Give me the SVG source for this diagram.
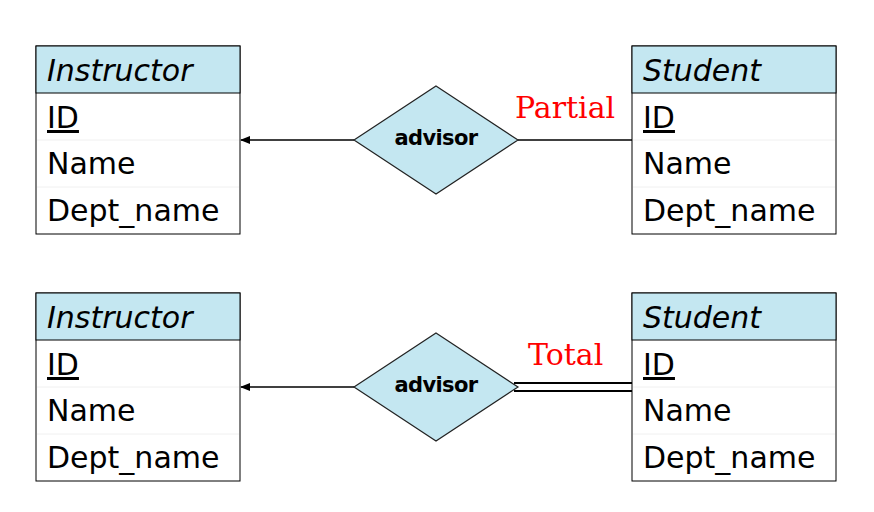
<svg xmlns="http://www.w3.org/2000/svg" width="874" height="512" viewBox="0 0 874 512">
<style>
.hdr{fill:#c4e7f1;stroke:#000;stroke-width:1}
.box{fill:#fff;stroke:#000;stroke-width:1}
.sep{stroke:#f0f0f0;stroke-width:1}
.t{font-family:"DejaVu Sans",Verdana,sans-serif;font-size:30px;fill:#000}
.it{font-style:italic}
.dia{fill:#c4e7f1;stroke:#222;stroke-width:1.2}
.rl{font-family:"DejaVu Sans",Verdana,sans-serif;font-size:21px;font-weight:bold;letter-spacing:-0.6px;fill:#000;text-anchor:middle}
.lab{font-family:"DejaVu Serif","Liberation Serif",serif;font-size:30px;fill:#ff0000}
.ln{stroke:#000;stroke-width:1.4;fill:none}
.ln2{stroke:#000;stroke-width:1.8;fill:none}
</style>
<defs>
<marker id="ah" markerWidth="10" markerHeight="8" refX="9" refY="4" orient="auto" markerUnits="userSpaceOnUse">
<path d="M0,0 L10,4 L0,8 z" fill="#000"/>
</marker>
</defs>
<g id="connectors">
<line class="ln" x1="354" y1="140" x2="241" y2="140" marker-end="url(#ah)"/>
<line class="ln" x1="518" y1="140" x2="632" y2="140"/>
<line class="ln" x1="354" y1="387" x2="241" y2="387" marker-end="url(#ah)"/>
<line class="ln2" x1="514" y1="383" x2="632" y2="383"/>
<line class="ln2" x1="514" y1="391" x2="632" y2="391"/>
</g>
<g id="instructor1">
<rect class="box" x="36" y="46" width="204" height="188"/>
<rect class="hdr" x="36" y="46" width="204" height="47"/>
<line class="sep" x1="37" y1="140" x2="239" y2="140"/>
<line class="sep" x1="37" y1="187" x2="239" y2="187"/>
<text class="t it" x="47" y="81">Instructor</text>
<text class="t" x="47" y="128" text-decoration="underline">ID</text>
<text class="t" x="47" y="174">Name</text>
<text class="t" x="47" y="221">Dept_name</text>
</g>
<g id="advisor1">
<polygon class="dia" points="436,86 518,140 436,194 354,140"/>
<text class="rl" x="436" y="145">advisor</text>
</g>
<g id="student1">
<rect class="box" x="632" y="46" width="204" height="188"/>
<rect class="hdr" x="632" y="46" width="204" height="47"/>
<line class="sep" x1="633" y1="140" x2="835" y2="140"/>
<line class="sep" x1="633" y1="187" x2="835" y2="187"/>
<text class="t it" x="643" y="81">Student</text>
<text class="t" x="643" y="128" text-decoration="underline">ID</text>
<text class="t" x="643" y="174">Name</text>
<text class="t" x="643" y="221">Dept_name</text>
</g>
<text class="lab" x="515" y="118">Partial</text>
<g id="instructor2">
<rect class="box" x="36" y="293" width="204" height="188"/>
<rect class="hdr" x="36" y="293" width="204" height="47"/>
<line class="sep" x1="37" y1="387" x2="239" y2="387"/>
<line class="sep" x1="37" y1="434" x2="239" y2="434"/>
<text class="t it" x="47" y="328">Instructor</text>
<text class="t" x="47" y="375" text-decoration="underline">ID</text>
<text class="t" x="47" y="421">Name</text>
<text class="t" x="47" y="468">Dept_name</text>
</g>
<g id="advisor2">
<polygon class="dia" points="436,333 518,387 436,441 354,387"/>
<text class="rl" x="436" y="392">advisor</text>
</g>
<g id="student2">
<rect class="box" x="632" y="293" width="204" height="188"/>
<rect class="hdr" x="632" y="293" width="204" height="47"/>
<line class="sep" x1="633" y1="387" x2="835" y2="387"/>
<line class="sep" x1="633" y1="434" x2="835" y2="434"/>
<text class="t it" x="643" y="328">Student</text>
<text class="t" x="643" y="375" text-decoration="underline">ID</text>
<text class="t" x="643" y="421">Name</text>
<text class="t" x="643" y="468">Dept_name</text>
</g>
<text class="lab" x="528" y="365">Total</text>
</svg>
